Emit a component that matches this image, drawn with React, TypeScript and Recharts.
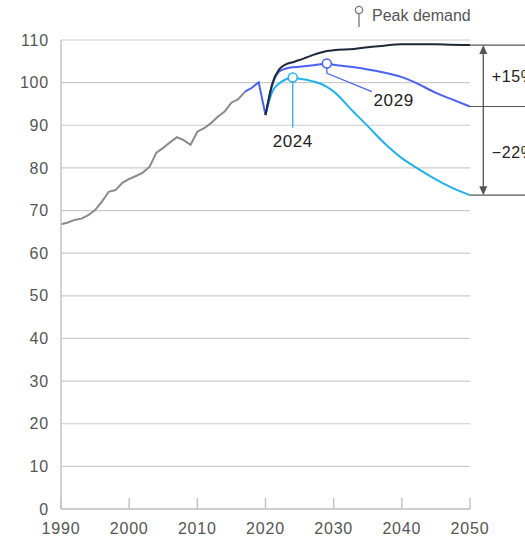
import {
  LineChart,
  Line,
  XAxis,
  YAxis,
  CartesianGrid,
  ReferenceLine,
  ReferenceDot,
} from 'recharts';

// Demand index, 2019 = 100
const historyYears = [
  1990, 1991, 1992, 1993, 1994, 1995, 1996, 1997, 1998, 1999, 2000, 2001, 2002, 2003,
  2004, 2005, 2006, 2007, 2008, 2009, 2010, 2011, 2012, 2013, 2014, 2015, 2016, 2017,
];
const historyValues = [
  66.8, 67.2, 67.8, 68.1, 68.9, 70.1, 72.1, 74.4, 74.8, 76.5, 77.4, 78.1, 78.9, 80.3,
  83.6, 84.7, 86.0, 87.2, 86.5, 85.4, 88.5, 89.3, 90.5, 92.0, 93.2, 95.3, 96.1, 97.9,
];

const recentYears = [2017, 2018, 2019, 2020];
const recentValues = [97.9, 98.8, 100.1, 92.4];

const scenarioYears = [
  2020, 2021, 2022, 2023, 2024, 2025, 2026, 2027, 2028, 2029, 2030,
  2033, 2035, 2037, 2040, 2042, 2045, 2047, 2050,
];
const highValues = [
  92.4, 99.8, 103.1, 104.3, 104.8, 105.3, 105.9, 106.5, 107.0, 107.4, 107.6,
  107.9, 108.3, 108.6, 109.0, 109.0, 109.0, 108.9, 108.8,
];
const midValues = [
  92.4, 99.4, 102.6, 103.3, 103.6, 103.7, 103.9, 104.1, 104.3, 104.5, 104.2,
  103.6, 103.1, 102.5, 101.3, 100.0, 97.6, 96.3, 94.4,
];
const lowValues = [
  92.4, 97.9, 99.8, 100.8, 101.2, 100.9, 100.7, 100.3, 99.8, 99.0, 97.9,
  93.0, 89.8, 86.5, 82.3, 80.2, 77.3, 75.6, 73.6,
];

const xTicks = [1990, 2000, 2010, 2020, 2030, 2040, 2050];
const yTicks = [0, 10, 20, 30, 40, 50, 60, 70, 80, 90, 100, 110];

const lowPeak = { year: 2024, value: 101.2, label: '2024' };
const midPeak = { year: 2029, value: 104.5, label: '2029' };
const changeHigh = '+15%';
const changeLow = '\u221222%';

const GRAY = '#8a8a8a';
const BLUE = '#4a62f2';
const CYAN = '#22b1ec';
const NAVY = '#1d2939';
const INK = '#555555';
const FONT = '"Liberation Sans", Arial, sans-serif';

const toRows = (years: number[], values: number[]) =>
  years.map((year, i) => ({ year, value: values[i] }));

const historyData = toRows(historyYears, historyValues);
const recentData = toRows(recentYears, recentValues);
const highData = toRows(scenarioYears, highValues);
const midData = toRows(scenarioYears, midValues);
const lowData = toRows(scenarioYears, lowValues);

const end = scenarioYears[scenarioYears.length - 1];
const endHigh = highValues[highValues.length - 1];
const endMid = midValues[midValues.length - 1];
const endLow = lowValues[lowValues.length - 1];

const tickStyle = { fill: INK, fontSize: 16, fontFamily: FONT, letterSpacing: 0.8 };

const textShape =
  (text: string, anchor: 'start' | 'middle', size: number, color: string) =>
  (p: any) =>
    (
      <text
        x={p.cx}
        y={p.cy}
        textAnchor={anchor}
        dominantBaseline="central"
        fontSize={size}
        fontFamily={FONT}
        letterSpacing={0.6}
        fill={color}
      >
        {text}
      </text>
    );

const arrowShape = (p: any) => {
  const { x1, y1, x2, y2 } = p;
  const top = Math.min(y1, y2);
  const bottom = Math.max(y1, y2);
  const x = x1;
  return (
    <g stroke={INK} fill={INK}>
      <line x1={x} x2={x2} y1={top + 8} y2={bottom - 8} strokeWidth={1.3} />
      <path d={`M${x},${top} L${x - 4},${top + 9} L${x + 4},${top + 9} Z`} stroke="none" />
      <path d={`M${x},${bottom} L${x - 4},${bottom - 9} L${x + 4},${bottom - 9} Z`} stroke="none" />
    </g>
  );
};

export default function App() {
  return (
    <div style={{ position: 'absolute', left: 0, top: 0, width: 525, height: 537 }}>
      <div
        style={{
          position: 'absolute',
          left: 353,
          top: 3,
          display: 'flex',
          alignItems: 'flex-start',
          fontFamily: FONT,
          fontSize: 16,
          color: INK,
          lineHeight: '20px',
          zIndex: 1,
        }}
      >
        <svg width={14} height={26} style={{ marginRight: 5 }}>
          <line x1={6} x2={6} y1={10} y2={24} stroke="#777" strokeWidth={1.3} />
          <circle cx={6} cy={7} r={3.6} fill="#fff" stroke="#777" strokeWidth={1.3} />
        </svg>
        <span style={{ marginTop: 3 }}>Peak demand</span>
      </div>
      <LineChart
        width={525}
        height={537}
        margin={{ top: 40, right: 55, bottom: 0, left: 0 }}
      >
        <CartesianGrid vertical={false} stroke="#cccccc" strokeWidth={1.2} />
        <XAxis
          dataKey="year"
          type="number"
          domain={[1990, 2050]}
          ticks={xTicks}
          allowDataOverflow
          height={28}
          axisLine={{ stroke: '#c4c4c4', strokeWidth: 1.5 }}
          tickLine={{ stroke: '#c4c4c4', strokeWidth: 1.5 }}
          tickSize={-11}
          tickMargin={25}
          tick={tickStyle}
        />
        <YAxis
          type="number"
          domain={[0, 110]}
          ticks={yTicks}
          width={61}
          axisLine={{ stroke: '#c4c4c4', strokeWidth: 1.5 }}
          tickLine={false}
          tickSize={0}
          tickMargin={12}
          tick={tickStyle}
        />
        <Line data={historyData} dataKey="value" stroke={GRAY} strokeWidth={2} dot={false} type="linear" isAnimationActive={false} />
        <Line data={recentData} dataKey="value" stroke={BLUE} strokeWidth={2} dot={false} type="linear" isAnimationActive={false} />
        <Line data={lowData} dataKey="value" stroke={CYAN} strokeWidth={2} dot={false} type="monotone" isAnimationActive={false} />
        <Line data={midData} dataKey="value" stroke={BLUE} strokeWidth={2} dot={false} type="monotone" isAnimationActive={false} />
        <Line data={highData} dataKey="value" stroke={NAVY} strokeWidth={2} dot={false} type="monotone" isAnimationActive={false} />

        {/* peak leaders */}
        <ReferenceLine
          segment={[{ x: lowPeak.year, y: lowPeak.value }, { x: lowPeak.year, y: 89.4 }]}
          stroke={CYAN}
          strokeWidth={1.3}
        />
        <ReferenceLine
          segment={[{ x: midPeak.year, y: midPeak.value }, { x: midPeak.year, y: 102.2 }]}
          stroke={BLUE}
          strokeWidth={1.3}
        />
        <ReferenceLine
          segment={[{ x: midPeak.year, y: 102.2 }, { x: 2035.6, y: 97.9 }]}
          stroke={BLUE}
          strokeWidth={1.3}
        />
        <ReferenceDot x={lowPeak.year} y={lowPeak.value} r={4.5} fill="#fff" stroke={CYAN} strokeWidth={1.5} />
        <ReferenceDot x={midPeak.year} y={midPeak.value} r={4.5} fill="#fff" stroke={BLUE} strokeWidth={1.5} />
        <ReferenceDot x={lowPeak.year} y={86.1} r={1} shape={textShape(lowPeak.label, 'middle', 17, '#222')} />
        <ReferenceDot x={2038.8} y={95.9} r={1} shape={textShape(midPeak.label, 'middle', 17, '#222')} />

        {/* change from 2050 midpoint to the high and low ends */}
        <ReferenceLine segment={[{ x: end, y: endHigh }, { x: 2058.5, y: endHigh }]} stroke={INK} strokeWidth={1.2} ifOverflow="visible" />
        <ReferenceLine segment={[{ x: end, y: endMid }, { x: 2058.5, y: endMid }]} stroke={INK} strokeWidth={1.2} ifOverflow="visible" />
        <ReferenceLine segment={[{ x: end, y: endLow }, { x: 2058.5, y: endLow }]} stroke={INK} strokeWidth={1.2} ifOverflow="visible" />
        <ReferenceLine
          segment={[{ x: 2051.95, y: endHigh }, { x: 2051.95, y: endLow }]}
          ifOverflow="visible"
          shape={arrowShape}
        />
        <ReferenceDot x={2053.2} y={101.4} r={1} ifOverflow="visible" shape={textShape(changeHigh, 'start', 16, '#222')} />
        <ReferenceDot x={2053.2} y={83.5} r={1} ifOverflow="visible" shape={textShape(changeLow, 'start', 16, '#222')} />
      </LineChart>
    </div>
  );
}
